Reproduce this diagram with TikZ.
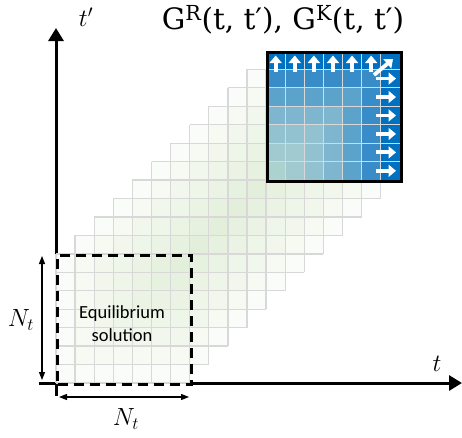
\documentclass[tikz,border=0pt]{standalone}
\usepackage{fontspec}
\newfontfamily\carl{Carlito}
\newfontfamily\titlefont{DejaVu Serif}
\usetikzlibrary{arrows.meta}
\definecolor{gfill}{RGB}{150,195,120}
\definecolor{gline}{RGB}{216,216,216}
\definecolor{bc0}{RGB}{0,112,192}
\definecolor{bc1}{RGB}{56,140,200}
\definecolor{bc2}{RGB}{92,163,204}
\definecolor{bc3}{RGB}{125,182,206}
\definecolor{bc4}{RGB}{146,194,207}
\definecolor{bc5}{RGB}{160,202,208}
\definecolor{bc6}{RGB}{172,210,208}
\tikzset{
  axis/.style={line width=3pt,black},
  axistip/.style={-{Triangle[width=15pt,length=13pt]}},
  dimarrow/.style={line width=1.2pt,{Triangle[width=6pt,length=8pt]}-{Triangle[width=6pt,length=8pt]}},
  warrow/.style={white,line width=3.8pt,-{Triangle[width=12pt,length=7.5pt]}},
  cellline/.style={gline,line width=1.3pt},
  mathlbl/.style={font=\fontsize{25}{30}\selectfont,inner sep=0pt},
}
\begin{document}
\begin{tikzpicture}[x=1pt,y=-1pt]
\useasboundingbox (0,0) rectangle (462,437);
\def\cw{19.1}
\def\ch{18.45}
\def\xo{56}
\def\yo{253.85}
% axes (hidden under the equilibrium square)
\coordinate (vbot) at (56,396);
\coordinate (orig) at (56,383);
\coordinate (vtop1) at (56,253.85);
\coordinate (vtip) at (56,28);
\coordinate (hleft) at (39,383);
\coordinate (hright1) at (189.7,383);
\coordinate (htip) at (462,383);
\draw[axis] (vbot) -- (orig);
\draw[axis,axistip] (vtop1) -- (vtip);
\draw[axis] (hleft) -- (orig);
\draw[axis,axistip] (hright1) -- (htip);
% translucent staircase squares
\foreach \k in {0,...,11}{
  \fill[gfill,opacity=0.045] ({\xo+\k*\cw},{\yo-\k*\ch}) rectangle ++({7*\cw},{7*\ch});
}
\foreach \k in {0,...,10}{
  \foreach \i in {0,...,7}{
    \draw[cellline] ({\xo+(\k+\i)*\cw},{\yo-\k*\ch}) -- ++(0,{7*\ch});
    \draw[cellline] ({\xo+\k*\cw},{\yo-(\k-\i)*\ch}) -- ++({7*\cw},0);
  }
}
% blue square
\def\bx{266.1}
\def\by{50.9}
\foreach \r in {0,...,6}{
  \foreach \c in {0,...,6}{
    \pgfmathtruncatemacro\d{min(\r,6-\c)}
    \fill[bc\d] ({\bx+\c*\cw},{\by+\r*\ch}) rectangle ++(\cw,\ch);
  }
}
\foreach \i in {1,...,6}{
  \draw[cellline] ({\bx+\i*\cw},\by) -- ++(0,{7*\ch});
  \draw[cellline] (\bx,{\by+\i*\ch}) -- ++({7*\cw},0);
}
\foreach \c in {0,...,5}{
  \draw[warrow] ({\bx+(\c+0.5)*\cw},72) -- ({\bx+(\c+0.5)*\cw},55.5);
}
\foreach \r in {1,...,6}{
  \draw[warrow] (376,{\by+(\r+0.5)*\ch}) -- (396,{\by+(\r+0.5)*\ch});
}
\draw[warrow] (374,75) -- (393,59);
\node[draw,line width=3pt,inner sep=0pt,anchor=north west,minimum width={7*\cw*1pt},minimum height={7*\ch*1pt}] (blue) at (\bx,\by) {};
% equilibrium square
\node[draw,line width=3pt,dash pattern=on 10pt off 6pt,inner sep=0pt,anchor=north west,minimum width={7*\cw*1pt},minimum height={7*\ch*1pt}] (eqsq) at (\xo,\yo) {};
\node[font=\carl\fontsize{18.5}{23}\selectfont,align=center] (eq) at (122,324) {Equilibrium\\solution};
% dimension arrows
\coordinate (va) at (42,256);
\coordinate (vb) at (42,380);
\draw[dimarrow] (va) -- (vb);
\coordinate (ha) at (59,397);
\coordinate (hb) at (189,397);
\draw[dimarrow] (ha) -- (hb);
\node[mathlbl] (nv) at (21,320) {$N_t$};
\node[mathlbl] (nh) at (126,419) {$N_t$};
% labels
\node[mathlbl] (tp) at (86,17) {$t'$};
\node[mathlbl] (tl) at (437,364) {$t$};
\node[font=\titlefont\fontsize{29.5}{34}\selectfont,inner sep=0pt] (title) at (283,20) {G\textsuperscript{R}(t, t′), G\textsuperscript{K}(t, t′)};
\end{tikzpicture}
\end{document}
